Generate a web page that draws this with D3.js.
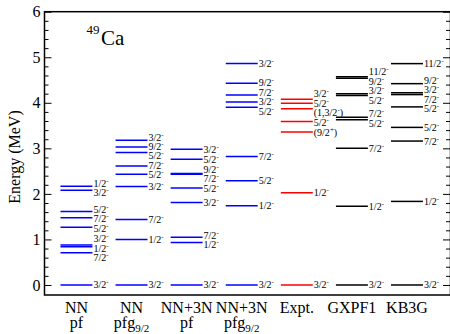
<!DOCTYPE html>
<html><head><meta charset="utf-8">
<script src="https://cdn.jsdelivr.net/npm/d3@7"></script>
<style>
html,body{margin:0;padding:0;background:#fff;}
svg{display:block;font-family:"Liberation Serif","Times New Roman",serif;}
</style></head>
<body>
<svg id="chart" width="450" height="334"></svg>
<script>
// ---- data ----
const categoryTop    = ["NN", "NN", "NN+3N", "NN+3N", "Expt.", "GXPF1", "KB3G"];
const categoryBottom = ["pf", "pfg_9/2", "pf", "pfg_9/2", "", "", ""];
const seriesGroup    = ["theory", "theory", "theory", "theory", "expt", "shell", "shell"];

const nnPfE   = [0, 0.71, 0.84, 0.88, 1.265, 1.476, 1.615, 2.08, 2.17];
const nnPfJ   = ["3/2-", "7/2-", "1/2-", "3/2-", "5/2-", "7/2-", "5/2-", "3/2-", "1/2-"];
const nnPfgE  = [0, 1.0, 1.44, 2.16, 2.43, 2.61, 2.91, 3.03, 3.18];
const nnPfgJ  = ["3/2-", "1/2-", "7/2-", "3/2-", "5/2-", "7/2-", "5/2-", "9/2-", "3/2-"];
const n3PfE   = [0, 0.93, 1.05, 1.81, 2.13, 2.43, 2.45, 2.76, 2.98];
const n3PfJ   = ["3/2-", "1/2-", "7/2-", "3/2-", "5/2-", "7/2-", "9/2-", "5/2-", "3/2-"];
const n3PfgE  = [0, 1.74, 2.29, 2.82, 3.90, 4.02, 4.17, 4.43, 4.86];
const n3PfgJ  = ["3/2-", "1/2-", "5/2-", "7/2-", "5/2-", "3/2-", "7/2-", "9/2-", "3/2-"];
const exptE   = [0, 2.023, 3.357, 3.59, 3.87, 3.99, 4.08];
const exptJ   = ["3/2-", "1/2-", "(9/2+)", "5/2-", "(1,3/2-)", "5/2-", "3/2-"];
const gxpf1E  = [0, 1.73, 3.0, 3.63, 3.68, 4.16, 4.20, 4.54, 4.57];
const gxpf1J  = ["3/2-", "1/2-", "7/2-", "5/2-", "7/2-", "5/2-", "3/2-", "9/2-", "11/2-"];
const kb3gE   = [0, 1.835, 3.16, 3.46, 3.91, 4.18, 4.22, 4.42, 4.86];
const kb3gJ   = ["3/2-", "1/2-", "7/2-", "5/2-", "5/2-", "7/2-", "3/2-", "9/2-", "11/2-"];

const yTicks = [0, 1, 2, 3, 4, 5, 6];
const yTitle = "Energy (MeV)";
const nucleusMass = "49", nucleusSym = "Ca";

// ---- build ----
const energies = [nnPfE, nnPfgE, n3PfE, n3PfgE, exptE, gxpf1E, kb3gE];
const spins    = [nnPfJ, nnPfgJ, n3PfJ, n3PfgJ, exptJ, gxpf1J, kb3gJ];
const colors   = {theory: "#0000ff", expt: "#ff0000", shell: "#000000"};
const FONT = "Liberation Serif, Times New Roman, serif";

const svg = d3.select("#chart").attr("font-family", FONT);
svg.append("rect").attr("width", 450).attr("height", 334).attr("fill", "#fff");

const L = 44.5, R = 450.5, T = 11.7, B = 295;
const x = d3.scaleLinear().domain([-0.29, 7.08]).range([L, R]);
const y = d3.scaleLinear().domain([-0.22, 6]).range([B, T]);
const lineW = 0.58;

// frame
svg.append("rect").attr("x", L).attr("y", T).attr("width", R - L).attr("height", B - T)
  .attr("fill", "none").attr("stroke", "#000").attr("stroke-width", 1.5);

// left and right axes with inward ticks
const minor = d3.range(0, 6.001, 0.2).map(v => +v.toFixed(1));
const gL = svg.append("g").attr("transform", `translate(${L},0)`)
  .call(d3.axisRight(y).tickValues(minor).tickSize(4).tickFormat(""));
gL.select(".domain").remove();
gL.selectAll(".tick line").attr("stroke-width", 1)
  .attr("x2", d => yTicks.includes(d) ? 7 : 4);
const gR = svg.append("g").attr("transform", `translate(${R - 0.5},0)`)
  .call(d3.axisLeft(y).tickValues(minor).tickSize(4).tickFormat(""));
gR.select(".domain").remove();
gR.selectAll(".tick line").attr("stroke-width", 1)
  .attr("x2", d => yTicks.includes(d) ? -7 : -4);

// y tick labels
const gY = svg.append("g").attr("transform", `translate(${L},0)`)
  .call(d3.axisLeft(y).tickValues(yTicks).tickSize(0).tickPadding(4).tickFormat(d3.format("d")));
gY.attr("font-family", FONT);
gY.select(".domain").remove();
gY.selectAll("text").attr("font-size", 16).attr("fill", "#000");

// y title
svg.append("text").attr("transform", "translate(20,157) rotate(-90)")
  .attr("text-anchor", "middle").attr("font-size", 16).text(yTitle);

// nucleus label
svg.append("text").attr("x", 86.5).attr("y", 34).attr("font-size", 13).text(nucleusMass);
svg.append("text").attr("x", 101).attr("y", 45).attr("font-size", 21).text(nucleusSym);

// label spreading
function spread(ys, gap) {
  const idx = ys.map((v, i) => i).sort((a, b) => ys[a] - ys[b]);
  const p = idx.map(i => ys[i]);
  for (let it = 0; it < 300; it++) {
    let moved = false;
    for (let j = 0; j < p.length - 1; j++) {
      const d = p[j + 1] - p[j];
      if (d < gap - 0.01) { const o = (gap - d) / 2; p[j] -= o; p[j + 1] += o; moved = true; }
    }
    if (!moved) break;
  }
  const out = new Array(ys.length);
  idx.forEach((i, k) => out[i] = p[k]);
  return out;
}

function addSpin(textSel, s) {
  const m = s.match(/^(.*?)([+-])(.*)$/);
  if (!m) { textSel.append("tspan").text(s); return; }
  textSel.append("tspan").text(m[1]);
  textSel.append("tspan").attr("font-size", 7).attr("dy", -4).text(m[2]);
  if (m[3]) textSel.append("tspan").attr("dy", 4).text(m[3]);
}

energies.forEach((es, c) => {
  const col = colors[seriesGroup[c]];
  const x0 = x(c), x1 = x(c + lineW);
  const g = svg.append("g");
  g.selectAll("line").data(es).join("line")
    .attr("x1", x0).attr("x2", x1)
    .attr("y1", d => y(d)).attr("y2", d => y(d))
    .attr("stroke", col).attr("stroke-width", 1.5);
  const ly = spread(es.map(d => y(d)), 9.5);
  es.forEach((d, i) => {
    const t = g.append("text").attr("x", x1 + 1).attr("y", ly[i] + 3.5)
      .attr("font-size", 10).attr("fill", "#000");
    addSpin(t, spins[c][i]);
  });
  // category label
  const cx = x(c + lineW / 2);
  svg.append("text").attr("x", cx).attr("y", 313).attr("text-anchor", "middle")
    .attr("font-size", 16).text(categoryTop[c]);
  const bot = categoryBottom[c];
  if (bot) {
    const t = svg.append("text").attr("x", cx).attr("y", 328).attr("text-anchor", "middle")
      .attr("font-size", 16);
    const parts = bot.split("_");
    t.append("tspan").text(parts[0]);
    if (parts[1]) t.append("tspan").attr("font-size", 11).attr("dy", 4).text(parts[1]);
  }
});
</script>
</body></html>
